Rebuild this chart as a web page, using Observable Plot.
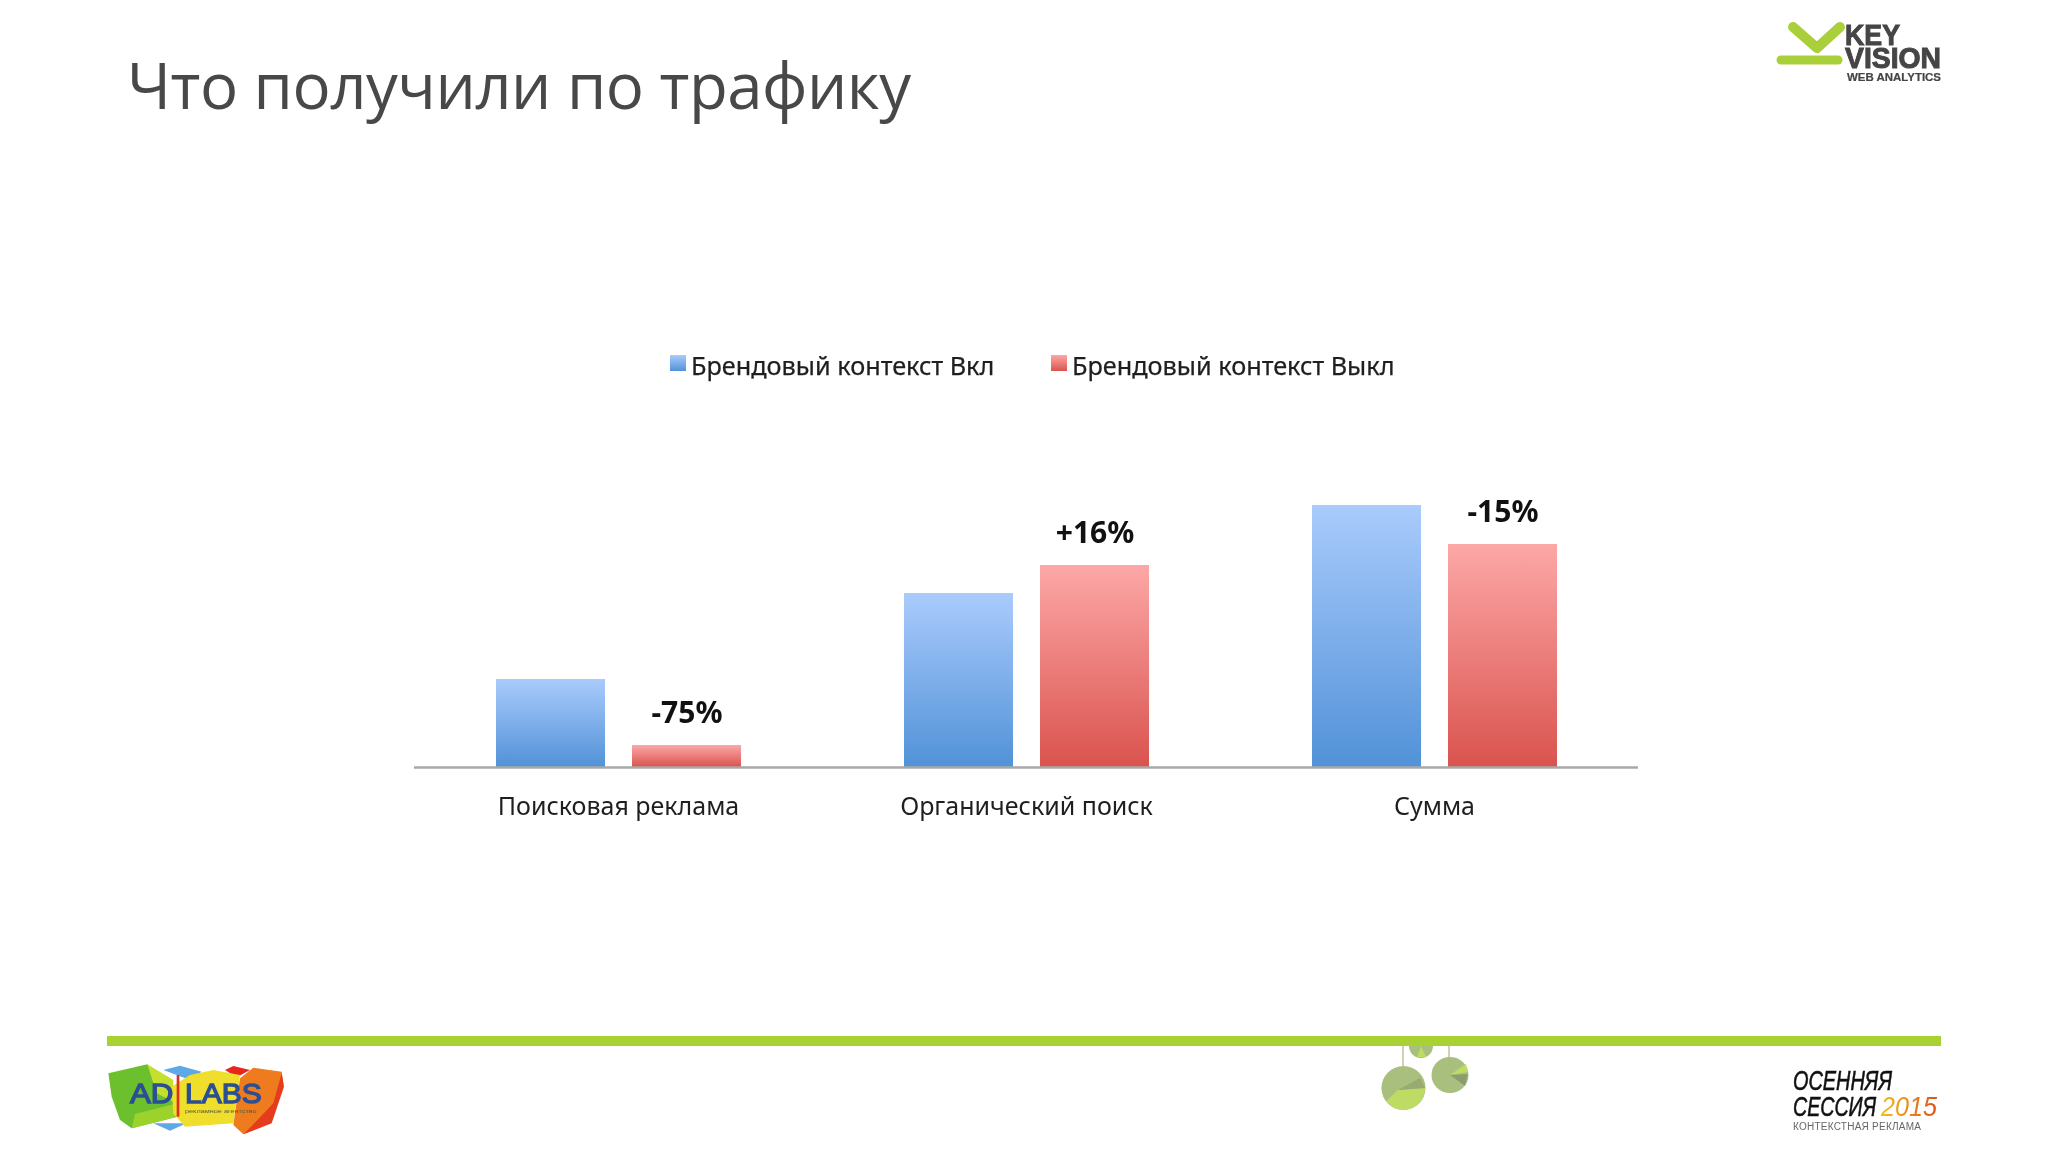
<!DOCTYPE html>
<html lang="ru">
<head>
<meta charset="utf-8">
<title>Что получили по трафику</title>
<script src="https://cdn.jsdelivr.net/npm/d3@7"></script>
<script src="https://cdn.jsdelivr.net/npm/@observablehq/plot@0.6"></script>
<style>
html,body{margin:0;padding:0;background:#fff;}
#page{position:relative;width:2048px;height:1152px;overflow:hidden;background:#fff;font-family:"Noto Sans",sans-serif;filter:blur(.45px);}
#title{position:absolute;left:127px;top:47px;font:400 63.5px/1.2 "Open Sans",sans-serif;color:#484848;white-space:nowrap;letter-spacing:-.5px;}
#legend{position:absolute;left:0;top:0;width:100%;height:0;}
.lg{position:absolute;top:348px;display:flex;align-items:center;font:400 25.25px/34px "Noto Sans",sans-serif;color:#1f1f1f;white-space:nowrap;-webkit-text-stroke:.25px #1f1f1f;}
.sw{width:16px;height:16px;margin-right:5px;margin-top:-4px;}
#chart{position:absolute;left:0;top:447px;}
#rule{position:absolute;left:107px;top:1036px;width:1834px;height:10px;background:#a9d134;}
.deco{position:absolute;overflow:visible;}
</style>
</head>
<body>
<div id="page">
  <svg class="deco" style="left:1360px;top:1020px" width="120" height="100" viewBox="1360 1020 120 100">
    <g stroke="#d6cfb4" stroke-width="2"><line x1="1403" y1="1040" x2="1403" y2="1068"/><line x1="1449" y1="1040" x2="1449" y2="1058"/></g>
    <path d="M1409 1046A12 12 0 0 0 1433 1046Z" fill="#a8bf7e"/>
    <path d="M1421 1046L1417 1057L1426 1057Z" fill="#bedb63"/>
    <ellipse cx="1403.5" cy="1088" rx="22" ry="22" fill="#a8bf7e"/>
    <path d="M1386 1101L1398 1090L1425 1088A22 22 0 0 1 1403 1110A22 22 0 0 1 1386 1101Z" fill="#bedb63"/>
    <path d="M1398 1090L1420 1078L1425 1088Z" fill="#98ab72"/>
    <ellipse cx="1450" cy="1075" rx="18.5" ry="18" fill="#a8bf7e"/>
    <path d="M1450 1075L1466 1064L1468 1072Z" fill="#bedb63"/>
    <path d="M1450 1075L1468 1074L1465 1086Z" fill="#8d9c70"/>
  </svg>
  <div id="rule"></div>
  <div id="title">Что получили по трафику</div>
  <div id="legend"></div>
  <div id="chart"></div>

  <svg class="deco" style="left:1760px;top:10px" width="210" height="80" viewBox="1760 10 210 80">
    <path d="M1793 27L1817 48L1840 27" fill="none" stroke="#a9cf3a" stroke-width="10" stroke-linecap="round" stroke-linejoin="round"/>
    <line x1="1781" y1="60" x2="1838" y2="60" stroke="#a9cf3a" stroke-width="9" stroke-linecap="round"/>
    <g font-family="Liberation Sans" font-weight="700" fill="#454545" stroke="#454545">
      <text x="1845" y="45" font-size="30" stroke-width="1" textLength="55" lengthAdjust="spacingAndGlyphs">KEY</text>
      <text x="1845" y="68" font-size="29" stroke-width="1" textLength="96" lengthAdjust="spacingAndGlyphs">VISION</text>
      <text x="1847" y="81" font-size="11" stroke-width=".2" textLength="94" lengthAdjust="spacingAndGlyphs">WEB ANALYTICS</text>
    </g>
  </svg>

  <svg class="deco" style="left:90px;top:1020px" width="220" height="132" viewBox="0 0 660 396">
    <path d="M220 150L270 137L335 155L300 180Z M190 310L240 332L290 310Z" fill="#5ea9e5"/>
    <path d="M405 150L430 138L480 150L440 172Z" fill="#e8261e"/>
    <path d="M55 160L172 133L250 215L262 290L125 325L90 300L65 230Z" fill="#6cbf2d"/>
    <path d="M125 325L135 282L262 250L262 290Z" fill="#9bd22c"/>
    <path d="M172 133L250 180L250 245L200 220Z" fill="#c5df2e"/>
    <path d="M245 200L300 165L370 150L450 165L430 310L285 320L250 280Z" fill="#f0de2c"/>
    <path d="M450 175L490 143L575 155L580 190L540 310L460 343L430 315Z" fill="#ee7b1d"/>
    <path d="M575 160L582 200L545 310L460 343L485 318L550 250Z" fill="#e63c1e"/>
    <rect x="260" y="165" width="8" height="125" fill="#d9301e"/>
    <g font-family="Liberation Sans" fill="#2b4f93" font-size="84" stroke="#2b4f93" stroke-width="4">
      <text x="120" y="250" textLength="130" lengthAdjust="spacingAndGlyphs">AD</text>
      <text x="285" y="250" textLength="230" lengthAdjust="spacingAndGlyphs">LABS</text>
      <text x="285" y="280" font-size="18" stroke="none" fill="#5a5a3a" textLength="215" lengthAdjust="spacingAndGlyphs">рекламное агентство</text>
    </g>
  </svg>

  <svg class="deco" style="left:1780px;top:1060px" width="180" height="80" viewBox="1780 1060 180 80">
    <defs><linearGradient id="yr" x1="0" x2="1" y1="0" y2="0"><stop offset="0" stop-color="#f2c21c"/><stop offset="1" stop-color="#e0501c"/></linearGradient></defs>
    <g font-family="Liberation Sans Narrow, Liberation Sans" font-style="italic" font-size="28" fill="#111">
      <text x="1793" y="1090" stroke="#111" stroke-width=".6" textLength="99" lengthAdjust="spacingAndGlyphs">ОСЕННЯЯ</text>
      <text x="1793" y="1116" stroke="#111" stroke-width=".6" textLength="83" lengthAdjust="spacingAndGlyphs">СЕССИЯ</text>
      <text x="1881" y="1116" textLength="56" lengthAdjust="spacingAndGlyphs" fill="url(#yr)">2015</text>
    </g>
    <text x="1793" y="1130" font-family="Liberation Sans" font-size="10" fill="#666" textLength="128" lengthAdjust="spacing">КОНТЕКСТНАЯ РЕКЛАМА</text>
  </svg>
</div>
<script>
// Data (arbitrary units; the chart has no value axis)
const categories = ["Поисковая реклама", "Органический поиск", "Сумма"];
const seriesNames = ["Брендовый контекст Вкл", "Брендовый контекст Выкл"];
const brandOn  = [88, 174, 262];
const brandOff = [22, 202, 223];
const changeLabels = ["-75%", "+16%", "-15%"];

const legendLefts = [670, 1051];
const gradients = [
  {id: "gradOn",  top: "#aacbfc", bottom: "#5192d8"},
  {id: "gradOff", top: "#fca8a7", bottom: "#da534e"}
];

const rows = categories.flatMap((category, i) => [
  {category, series: seriesNames[0], value: brandOn[i]},
  {category, series: seriesNames[1], value: brandOff[i], label: changeLabels[i]}
]);

const chart = Plot.plot({
  width: 2048,
  height: 380,
  marginLeft: 413,
  marginRight: 409,
  marginTop: 20,
  marginBottom: 60,
  style: {background: "transparent", overflow: "visible"},
  fx: {domain: categories, padding: 0, label: null},
  x: {domain: seriesNames, paddingInner: 0.2, paddingOuter: 0.59, axis: null},
  y: {domain: [0, 300], axis: null},
  color: {domain: seriesNames, range: gradients.map(g => `url(#${g.id})`)},
  marks: [
    () => {
      const ns = "http://www.w3.org/2000/svg";
      const defs = document.createElementNS(ns, "defs");
      gradients.forEach(g => {
        const lg = document.createElementNS(ns, "linearGradient");
        lg.setAttribute("id", g.id);
        lg.setAttribute("x1", 0); lg.setAttribute("x2", 0);
        lg.setAttribute("y1", 0); lg.setAttribute("y2", 1);
        [[0, g.top], [1, g.bottom]].forEach(([o, c]) => {
          const s = document.createElementNS(ns, "stop");
          s.setAttribute("offset", o);
          s.setAttribute("stop-color", c);
          lg.appendChild(s);
        });
        defs.appendChild(lg);
      });
      return defs;
    },
    Plot.barY(rows, {fx: "category", x: "series", y: "value", fill: "series"}),
    Plot.ruleY([0], {stroke: "#a8a8a8", strokeWidth: 2.5}),
    Plot.text(rows.filter(d => d.label), {
      fx: "category", x: "series", y: "value", text: "label", dy: -32,
      fontFamily: "Noto Sans", fontWeight: 700, fontSize: 30, fill: "#111", lineAnchor: "middle"
    }),
    Plot.axisFx({
      anchor: "bottom", tickSize: 0, tickPadding: 39, label: null,
      fontFamily: "Noto Sans", fontSize: 25, fill: "#1f1f1f", lineAnchor: "middle"
    })
  ]
});
document.getElementById("chart").appendChild(chart);

const legend = document.getElementById("legend");
seriesNames.forEach((name, i) => {
  const g = gradients[i];
  const item = document.createElement("div");
  item.className = "lg";
  item.style.left = legendLefts[i] + "px";
  const sw = document.createElement("span");
  sw.className = "sw";
  sw.style.background = `linear-gradient(${g.top}, ${g.bottom})`;
  item.appendChild(sw);
  item.appendChild(document.createTextNode(name));
  legend.appendChild(item);
});
</script>
</body>
</html>
